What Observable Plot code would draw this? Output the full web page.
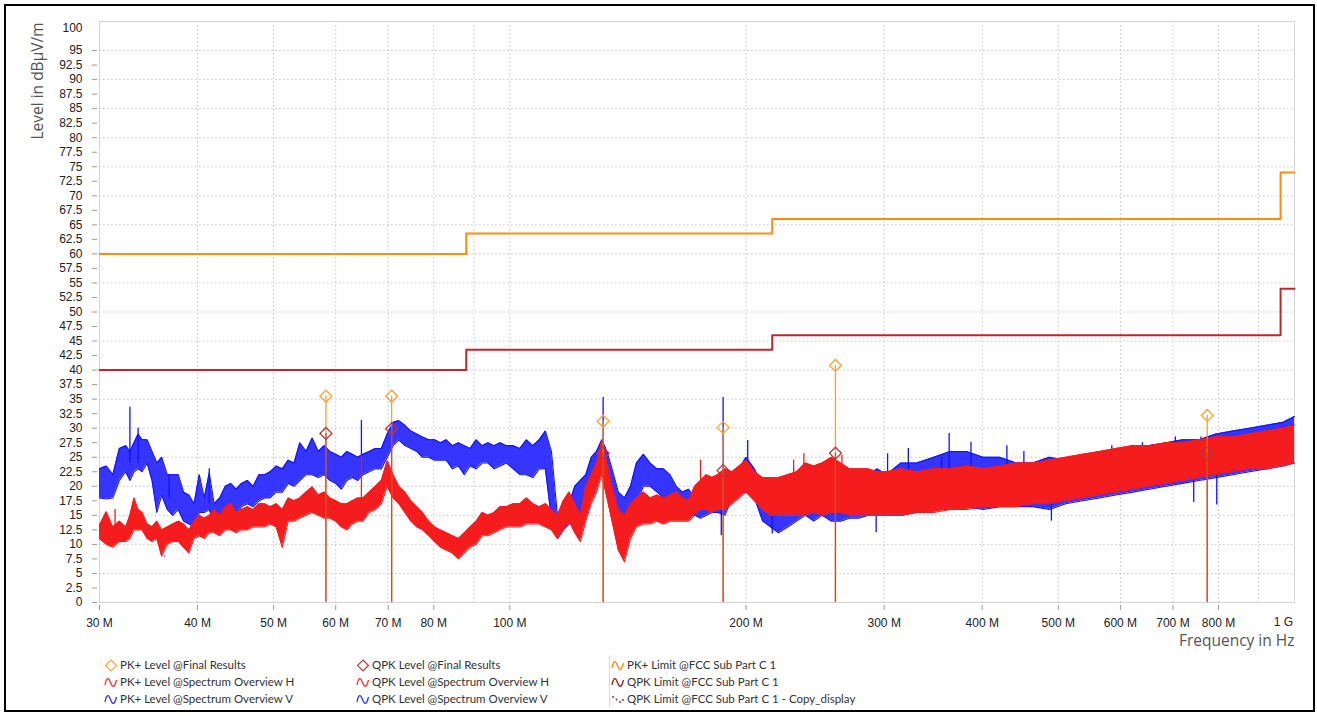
<!DOCTYPE html>
<html><head><meta charset="utf-8">
<script src="https://cdn.jsdelivr.net/npm/d3@7"></script>
<script src="https://cdn.jsdelivr.net/npm/@observablehq/plot@0.6"></script>
<style>
body{margin:0;background:#fff;}
#wrap{position:relative;width:1317px;height:716px;overflow:hidden;background:#fff;}
#frame{position:absolute;left:4px;top:4px;width:1311px;height:708px;border:2.5px solid #000;box-sizing:border-box;pointer-events:none;}
#chart{position:absolute;left:0;top:0;}
.leg{position:absolute;font-family:Lato,"Noto Sans",sans-serif;font-size:11.5px;color:#333;white-space:nowrap;line-height:14px;}
.leg svg{position:absolute;left:-16px;top:1px;}
#sep{position:absolute;left:609px;top:655px;width:1px;height:52px;background:#ddd;}
</style></head>
<body><div id="wrap"><div id="chart"></div><div id="sep"></div><div id="frame"></div></div>
<script>
// ---------- data ----------
const freqMHz = [30,30.6,31.2,31.8,32.4,32.8,33.2,33.6,34,
 34.5,35,35.5,36,36.6,37.2,37.8,38.4,39,39.6,
 40.2,40.8,41.4,42,42.7,43.4,44.1,44.8,45.5,46.3,
 47.1,47.9,48.7,49.5,50.4,51.3,52.2,53.1,54,55,
 56,57,58,59,60,61,62,63,64,65,
 66.2,67.4,68.6,69.8,71,72.2,73.5,74.8,76.1,77.4,
 78.8,80.2,81.6,83,84.5,86,87.5,89,90.6,92.2,
 93.8,95.5,97.2,99,101,103,105,107,109,111,
 113,115,117,119,121,123,125,127,129,131,
 133,135,137.5,140,142.5,145,148,151,154,157,
 160,163,166,169,172,175,178,181,184,188,
 192,196,200,205,210,215,220,226,232,238,
 244,250,257,264,271,278,286,294,302,315,
 330,347,364,382,401,421,442,464,487,511,
 537,564,592,622,653,686,720,756,794,834,
 876,920,966,1000];
// PK+ Level @Spectrum Overview V (blue) envelope
const vHi = [23,23.5,22,26.5,27,26,27.5,29,28,
 28,26,24,25,22,22,22,19,18.5,17,
 22,18,22.3,17,18,20,20.5,19.5,20.5,21,
 20,22,22,22.5,23.5,23,24.5,24,27.5,26,
 28.3,26,27,26,25.5,25,26,25.5,25,25.5,
 26,26.5,26.5,29,31,31.3,30.5,29.5,29,28.5,
 28,28,27.5,28,27,27.5,27,26.5,28,27,
 27.5,27,27.5,27,27,26.5,28,27,28,29.5,
 26,15,17,17,20,21,22,25,26,28,
 26,23,19,18,20,24,25.5,24,23,23,
 22,20,19,19.5,18,17.5,18,20,21.5,22,
 22,23,25,23,20,19,18,19,20,21,
 20,21,21,21,22,22,22,23,22,24,
 24,25,26,26,25,25,24,24,25,24.5,
 25,26,26,27,27,27.5,28,28,29,29.5,
 30,30.5,31,32];
const vLo = [18,17.8,18,21,22.5,21,22.5,23,22.5,
 24,21,15.5,18.5,16,15,16,14,13.5,13,
 15.5,15.5,16,13.5,14,15,16,15,16.5,17,
 16.5,17.5,18,18,19,19,20.5,20,21,22,
 22,21.5,22,21,20.5,19.5,21,21.5,21,22,
 22.5,23,23,25,27,28,27,26.5,26,25,
 25,24.5,24.5,24.5,23,23.5,22,23.5,23,24,
 24,23,23.5,24,23,22,22,21.5,23,23,
 14.5,11,12.5,13.5,15,15,16,19,20,23,
 20,17,15,15,15,17,20,20,19,18,
 17,16,15,15,15,14.5,15,15.5,15.5,15,
 18,19,19,18,14,13,12,13,14,15,
 14,15,14,14,14.5,14.5,15,15,15,15,
 15.5,16,16,16.5,16,16.5,16.5,16.5,16,17,
 17.5,18,18.5,19,19.5,20,20.5,21,21.5,22,
 22.5,23,23.5,24];
// PK+ Level @Spectrum Overview H (red) envelope
const hHi = [13.3,15.6,13,14,13,15,18,16,15.5,
 13.5,13,14,12.5,13,13.5,14,13.5,12.5,14,
 15,14.5,15,16,15,16.5,17,15.5,16,16.5,
 16,17,17,16.5,17,16,18,17.5,18,19,
 19.9,18.5,19,18,17.5,17,17,17.5,18,18,
 19,20,21,24.4,22,20,19,17.5,16.5,15.5,
 14,13,12.5,12,11.5,11,12,13,14,15.5,
 15,15.5,16.5,16.5,17,17,18,17,16.5,17,
 16,15,17.5,19,17,15,20,22,24,27.9,
 24,20,16,15,17,18,19,18,18.5,18,
 18.5,19,18,17.5,20,21,22,21.5,22,23,
 22.5,23.5,24.5,22.5,21.5,21.5,21.5,22,22.5,24,
 23.5,24,25,24,23,23,23,22.5,22.5,23,
 22.5,23,23,23.5,23,23.5,24,24,24.5,25,
 25.5,26,26.5,27,27,27.5,27.5,28,28.5,28.5,
 29,29.5,30,30.5];
const hLo = [11,10,9.5,10.5,10.5,11,12.5,12.5,12.5,
 11,10.5,11,8,10,10.5,10.5,9.5,8.5,11,
 11.5,11,12,12,11.5,12.5,12.5,12,12.5,12.5,
 13,13,13,13.5,13,9.5,14,14,14.5,15,
 15.5,15,14.5,14.5,14,13,12.5,13.5,14,14,
 15.5,16,17,20,18,17,15.5,14,13,12.5,
 11.5,10.5,9.5,9,8.5,7.5,8.5,9.5,10,11.5,
 11.5,12,12.5,13,13,13,13.5,13.5,13.5,13,
 12.5,11,12.5,14,12,10.5,14,17,19,22,
 18,14,9,7,11,13,13.5,13.5,14,13.5,
 14,14,14,14,15,16,16,15.5,16,16,
 17,18,19,17.5,16,15,15,15,15,15,
 15.5,15,15.5,15.5,15,15,15,15,15,15,
 15.5,15.5,16,16,16.5,16.5,16.5,17,17,17.5,
 18,18.5,19,19.5,20,20.5,21,21.5,22,22.5,
 23,23,23.5,24];
// isolated spikes (freq MHz, from, to)
const vSpikeF  = [32.8,33.6,36.8,41.4,64.7,131.5,187.0,201,303,322,355,363,387,430,452,585,640,705,760,186,216,293,490,744,796];
const vSpikeLo = [24,24,18,17,22,25,20,22,20,20,20,20,20,20,20,22,22,23,23,11.5,11.8,12,14,17.2,16.8];
const vSpikeHi = [33.6,30,22,23,31.3,35.3,35.3,27.9,25.6,26.5,25,29.1,27.6,27,26,27,27.5,28.5,28.5,17,15,16,17,21,22];
const hSpikeF  = [31.4,36.3,64.7,175,230,237,265,620];
const hSpikeLo = [12,8,16,18,18,18,18,22];
const hSpikeHi = [16,7.8,25.3,24.5,24.5,25.6,25.3,26.5];
// limits @FCC Sub Part C 1
const limFreq  = [30,88,216,960,1000];
const pkLimit  = [60,63.5,66,74,74];
const qpkLimit = [40,43.5,46,54,54];
// final results
const resFreq  = [58.3,70.7,131.5,187.0,260.0,774.0];
const pkLevel  = [35.5,35.5,31.2,30.1,40.8,32.2];
const qpkLevel = [29.1,29.9,25.7,22.7,25.7,25.7];
// ticks
const yTicks = [0,2.5,5,7.5,10,12.5,15,17.5,20,22.5,25,27.5,30,32.5,35,37.5,40,42.5,45,47.5,50,52.5,55,57.5,60,62.5,65,67.5,70,72.5,75,77.5,80,82.5,85,87.5,90,92.5,95];
const yGrid = [5,10,15,20,25,30,35,40,45,50,55,60,65,70,75,80,85,90,95];
const xTicks = [30,40,50,60,70,80,100,200,300,400,500,600,700,800];
const xTickLabels = ["30 M","40 M","50 M","60 M","70 M","80 M","100 M","200 M","300 M","400 M","500 M","600 M","700 M","800 M"];
const xEnd = [1000], xEndLabel = ["1 G"];
const xGrid = [40,50,60,70,80,90,100,200,300,400,500,600,700,800,900];
const legendCols = [
 ["PK+ Level @Final Results","PK+ Level @Spectrum Overview H","PK+ Level @Spectrum Overview V"],
 ["QPK Level @Final Results","QPK Level @Spectrum Overview H","QPK Level @Spectrum Overview V"],
 ["PK+ Limit @FCC Sub Part C 1","QPK Limit @FCC Sub Part C 1","QPK Limit @FCC Sub Part C 1 - Copy_display"]
];

// ---------- build ----------
const BLUE="#1212ff", RED="#f41c1c", ORANGE="#ff8c0a", DARKRED="#c0262c", PKD="#ffa234", QPKD="#b8383c";
const band = freqMHz.map((f,i)=>({f, vLo:vLo[i], vHi:vHi[i], hLo:hLo[i], hHi:hHi[i]}));
const vSp = vSpikeF.map((f,i)=>({f, lo:vSpikeLo[i], hi:vSpikeHi[i]}));
const hSp = hSpikeF.map((f,i)=>({f, lo:hSpikeLo[i], hi:hSpikeHi[i]}));
const lim = limFreq.map((f,i)=>({f, pk:pkLimit[i], qpk:qpkLimit[i]}));
const res = resFreq.map((f,i)=>({f, pk:pkLevel[i], qpk:qpkLevel[i]}));
const tickFont = {fontFamily:"'Liberation Sans', Arial, sans-serif", fontSize:12, fill:"#222"};

const chart = Plot.plot({
  width:1317, height:652,
  marginLeft:99, marginRight:23, marginTop:21, marginBottom:50,
  style:{background:"transparent", color:"#222", fontFamily:"'Liberation Sans', Arial, sans-serif", fontSize:"12px", overflow:"visible"},
  x:{type:"log", domain:[30,1000], label:null},
  y:{domain:[0,100], label:null},
  marks:[
    Plot.ruleY(yGrid, {stroke:"#c4c4c4", strokeDasharray:"1.5,2.5", strokeWidth:1}),
    Plot.ruleX(xGrid, {stroke:"#c4c4c4", strokeDasharray:"1.5,2.5", strokeWidth:1}),
    Plot.frame({stroke:"#d4d4d4"}),
    Plot.axisY({ticks:yTicks, tickSize:5, tickPadding:10, dx:-2, tickFormat:d=>String(d), stroke:"#999", ...tickFont}),
    Plot.axisY({ticks:[100], tickSize:0, tickPadding:15, dx:-2, dy:7, tickFormat:d=>String(d), ...tickFont}),
    Plot.axisX({ticks:xTicks, tickSize:5, dy:3, tickFormat:()=>"", stroke:"#999"}),
    Plot.text(xTicks, {x:d=>d, text:(d,i)=>xTickLabels[i], frameAnchor:"bottom", dy:21, lineAnchor:"middle", ...tickFont}),
    Plot.text(xEnd, {x:d=>d, text:(d,i)=>xEndLabel[i], frameAnchor:"bottom", dy:20, dx:-11, lineAnchor:"middle", ...tickFont}),
    Plot.text(["Level in dBµV/m"], {frameAnchor:"top-left", dx:-61, dy:1, rotate:-90, textAnchor:"end", lineAnchor:"middle", fontSize:15.5, fontFamily:"'Open Sans', sans-serif", fill:"#555"}),
    Plot.text(["Frequency in Hz"], {frameAnchor:"bottom-right", dy:39, textAnchor:"end", lineAnchor:"middle", fontSize:15.5, fontFamily:"'Open Sans', sans-serif", fill:"#555"}),
    Plot.line(lim, {x:"f", y:"pk", curve:"step-after", stroke:ORANGE, strokeWidth:2}),
    Plot.line(lim, {x:"f", y:"qpk", curve:"step-after", stroke:DARKRED, strokeWidth:2}),
    // V spectrum
    Plot.areaY(band, {x:"f", y1:"vLo", y2:"vHi", fill:BLUE, fillOpacity:0.85}),
    Plot.line(band, {x:"f", y:"vHi", stroke:BLUE, strokeWidth:1.1}),
    Plot.line(band, {x:"f", y:"vLo", stroke:BLUE, strokeWidth:1.1}),
    Plot.ruleX(vSp, {x:"f", y1:"lo", y2:"hi", stroke:BLUE, strokeWidth:1.3}),
    // H spectrum
    Plot.areaY(band, {x:"f", y1:"hLo", y2:"hHi", fill:RED, fillOpacity:1}),
    Plot.line(band, {x:"f", y:"hHi", stroke:RED, strokeWidth:1.1}),
    Plot.line(band, {x:"f", y:"hLo", stroke:RED, strokeWidth:1.1}),
    Plot.ruleX(hSp, {x:"f", y1:"lo", y2:"hi", stroke:RED, strokeWidth:1.3}),
    // final results
    Plot.ruleX(res, {x:"f", y1:0, y2:"pk", stroke:ORANGE, strokeWidth:1.3, strokeOpacity:0.85}),
    Plot.ruleX(res, {x:"f", y1:0, y2:"qpk", stroke:"#b5343a", strokeWidth:1.4, strokeOpacity:0.75}),
    Plot.dot(res, {x:"f", y:"pk", symbol:"diamond2", r:5.4, stroke:PKD, strokeWidth:1.3, fill:"none"}),
    Plot.dot(res, {x:"f", y:"qpk", symbol:"diamond2", r:5.4, stroke:QPKD, strokeWidth:1.3, fill:"none"})
  ]
});
document.getElementById("chart").appendChild(chart);

// ---------- legend ----------
const wrap = document.getElementById("wrap");
const colX = [120, 372, 627];
const rowY = [658, 675, 692];
const wave = c => `<svg width="14" height="13" viewBox="0 0 14 13"><path d="M1,9 C2.5,1 4.5,1 6.5,6.5 S10.5,12 12.5,4" fill="none" stroke="${c}" stroke-width="1.3"/></svg>`;
const dia = c => `<svg width="14" height="13" viewBox="0 0 14 13"><path d="M7,1 L12.5,6.5 L7,12 L1.5,6.5 Z" fill="none" stroke="${c}" stroke-width="1.2"/></svg>`;
const dots = c => `<svg width="14" height="13" viewBox="0 0 14 13"><circle cx="2" cy="4" r="0.9" fill="${c}"/><circle cx="5.5" cy="6.5" r="0.9" fill="${c}"/><circle cx="9" cy="9" r="0.9" fill="${c}"/><circle cx="12" cy="7" r="0.9" fill="${c}"/></svg>`;
const icons = [[dia(PKD), wave("#ff3030"), wave("#3030ff")],[dia(QPKD), wave("#ff3030"), wave("#3030ff")],[wave(ORANGE), wave("#a01818"), dots("#a01818")]];
legendCols.forEach((col,ci)=>col.forEach((txt,ri)=>{
  const d = document.createElement("div");
  d.className = "leg";
  d.style.left = colX[ci]+"px"; d.style.top = rowY[ri]+"px";
  d.innerHTML = icons[ci][ri];
  d.appendChild(document.createTextNode(txt));
  wrap.appendChild(d);
}));
</script>
</body></html>
